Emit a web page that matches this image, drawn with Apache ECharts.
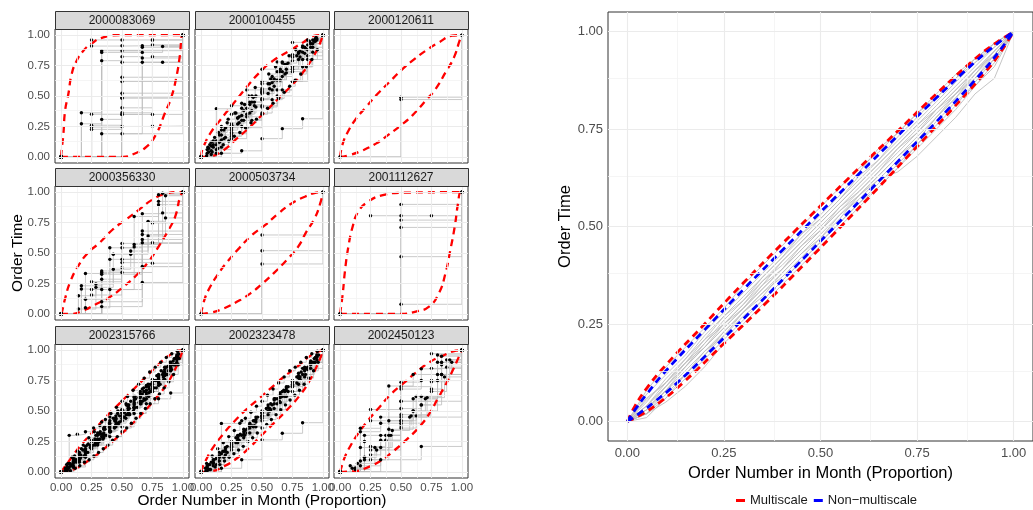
<!DOCTYPE html>
<html>
<head>
<meta charset="utf-8">
<script src="https://cdn.jsdelivr.net/npm/echarts@6/dist/echarts.min.js"></script>
<style>
html,body{margin:0;padding:0;background:#fff;}
#chart{width:1033px;height:510px;}
</style>
</head>
<body>
<div id="chart"></div>
<script>
// ---- Facet labels and ticks ----
const panelIds = ['2000083069','2000100455','2000120611','2000356330','2000503734','2001112627','2002315766','2002323478','2002450123'];
const tickValues = [0, 0.25, 0.5, 0.75, 1];
const minorValues = [0.125, 0.375, 0.625, 0.875];

// ---- Per-store monthly order paths: order times (proportion of month), one array per month.
// Order number proportion for order i of n is i/(n-1).
const paths_2000083069 = [
  [0,0.272,0.308,0.349,0.777,0.777,1],
  [0,0.362,0.79,0.823,0.858,0.907,1],
  [0,0.226,0.25,0.253,1],
  [0,0.245,0.349,0.349,1],
  [0,0.26,0.362,0.823,1],
  [0,0.35,0.403,0.92,1],
  [0,0.91,0.913,0.96,1],
  [0,0.96,0.96,0.96,1],
  [0,0.19,1],[0,0.482,1],[0,0.49,1],[0,0.523,1],[0,0.619,1],[0,0.654,1],[0,0.777,1],[0,0.872,1],
  [0,0.858,0.9,1],[0,0.872,0.913,1],[0,0.19,0.812,1]
];
const paths_2000100455 = [
  [0,0.05,0.14,0.2,0.3,0.38,0.47,0.55,0.66,0.72,0.8,0.9,1],
  [0,0.12,0.22,0.35,0.4,0.5,0.6,0.66,0.77,0.84,0.9,0.96,1],
  [0,0.02,0.08,0.17,0.25,0.3,0.36,0.47,0.55,0.62,0.74,0.86,1],
  [0,0.09,0.18,0.26,0.34,0.45,0.52,0.61,0.7,0.79,0.86,0.93,1],
  [0,0.04,0.1,0.15,0.24,0.28,0.35,0.42,0.48,0.56,0.63,0.68,0.74,0.82,0.88,0.95,1],
  [0,0.07,0.13,0.22,0.27,0.33,0.4,0.45,0.53,0.6,0.7,0.76,0.82,0.87,0.92,0.97,1],
  [0,0.06,0.19,0.33,0.42,0.55,0.7,0.83,1],
  [0,0.03,0.15,0.24,0.41,0.5,0.62,0.8,1],
  [0,0.03,0.05,0.15,0.232,0.313,1],
  [0,0.13,0.24,0.32,0.43,0.54,0.63,0.72,0.85,0.93,1],
  [0,0.03,0.08,0.12,0.16,0.22,0.27,0.3,0.36,0.41,0.47,0.52,0.58,0.63,0.69,0.74,0.8,0.85,0.9,0.96,1],
  [0,0.06,0.1,0.18,0.24,0.26,0.32,0.38,0.45,0.5,0.55,0.6,0.64,0.72,0.76,0.82,0.86,0.9,0.93,0.97,1],
  [0,0.395,0.42,0.55,0.72,0.78,0.94,0.96,1],
  [0,0.08,0.16,0.25,0.31,0.36,0.44,0.5,0.57,0.62,0.68,0.74,0.78,0.83,0.88,0.91,0.95,0.98,1],
  [0,0.01,0.04,0.07,0.1,0.13,0.17,0.2,0.24,0.28,0.31,0.35,0.4,0.44,0.48,0.53,0.58,0.63,0.68,0.74,0.8,0.88,1],
  [0,0.1,0.2,0.28,0.36,0.43,0.49,0.56,0.64,0.7,0.77,0.83,0.89,0.95,1]
];
const paths_2000120611 = [[0,0.49,1],[0,0.471,1]];
const paths_2000356330 = [
  [0,0.231,0.353,0.543,0.823,0.99,1],
  [0,0.204,0.285,0.38,0.584,0.829,1],
  [0,0.332,0.543,0.8,0.924,1],
  [0,0.12,0.448,0.57,0.897,1],
  [0,0.264,0.448,0.747,1],
  [0,0.155,0.34,0.416,1],
  [0,0.2,0.421,0.584,1],
  [0,0.149,0.245,0.367,0.516,0.76,0.788,1],
  [0,0.04,0.218,0.49,0.49,0.64,0.97,1],
  [0,0.579,1],
  [0,0.326,0.68,1],[0,0.2,0.611,1],[0,0.1,0.389,1],[0,0.06,0.258,1],[0,0.34,0.652,1],
  [0,0.05,0.2,0.55,0.978,1]
];
const paths_2000503734 = [[0,0.648,1],[0,0.519,1],[0,0.41,1]];
const paths_2001112627 = [
  [0,0.806,0.806,0.806,1],
  [0,0.899,1],[0,0.77,1],[0,0.71,1],[0,0.47,1],[0,0.079,1]
];
const paths_2002315766 = [
  [0,0.02,0.07,0.12,0.17,0.22,0.27,0.31,0.36,0.41,0.46,0.52,0.57,0.61,0.67,0.72,0.77,0.82,0.88,0.94,1],
  [0,0.04,0.08,0.1,0.15,0.19,0.25,0.3,0.33,0.39,0.44,0.48,0.53,0.58,0.63,0.68,0.74,0.79,0.85,0.92,1],
  [0,0.06,0.11,0.16,0.21,0.26,0.32,0.36,0.42,0.46,0.51,0.55,0.61,0.66,0.71,0.76,0.8,0.86,0.9,0.96,1],
  [0,0.01,0.04,0.09,0.13,0.2,0.23,0.28,0.34,0.37,0.42,0.47,0.52,0.56,0.6,0.66,0.71,0.76,0.83,0.9,1],
  [0,0.03,0.09,0.14,0.19,0.25,0.3,0.35,0.4,0.44,0.5,0.54,0.59,0.64,0.7,0.74,0.79,0.84,0.89,0.95,1],
  [0,0.02,0.05,0.08,0.18,0.21,0.24,0.32,0.38,0.43,0.48,0.5,0.55,0.62,0.65,0.7,0.76,0.81,0.86,0.93,1],
  [0,0.3,0.31,0.33,0.36,0.41,0.45,0.5,0.56,0.62,0.68,0.72,0.79,0.86,0.93,1],
  [0,0.04,0.1,0.16,0.22,0.29,0.34,0.4,0.47,0.53,0.58,0.66,0.74,0.8,0.88,1],
  [0,0.02,0.05,0.09,0.12,0.16,0.2,0.24,0.27,0.3,0.33,0.37,0.41,0.45,0.48,0.53,0.57,0.6,0.65,0.69,0.73,0.78,0.83,0.88,0.94,1],
  [0,0.01,0.06,0.1,0.14,0.17,0.22,0.26,0.31,0.35,0.38,0.42,0.46,0.49,0.52,0.56,0.61,0.66,0.7,0.75,0.78,0.82,0.87,0.91,0.96,1],
  [0,0.04,0.12,0.22,0.29,0.37,0.48,0.56,0.6,0.648,1],
  [0,0.06,0.12,0.17,0.22,0.28,0.33,0.38,0.43,0.48,0.53,0.58,0.62,0.67,0.72,0.77,0.82,0.86,0.9,0.94,0.97,0.99,1],
  [0,0.005,0.01,0.03,0.05,0.08,0.1,0.13,0.16,0.19,0.22,0.26,0.29,0.33,0.36,0.4,0.44,0.48,0.52,0.56,0.6,0.64,0.69,0.74,0.8,0.88,1],
  [0,0.03,0.07,0.1,0.15,0.18,0.22,0.25,0.3,0.33,0.37,0.4,0.44,0.48,0.51,0.55,0.58,0.62,0.65,0.69,0.72,0.75,0.79,0.83,0.86,0.9,0.93,0.97,1],
  [0,0.01,0.03,0.05,0.08,0.11,0.13,0.16,0.19,0.22,0.25,0.27,0.3,0.33,0.36,0.39,0.42,0.44,0.47,0.5,0.53,0.56,0.59,0.62,0.66,0.69,0.72,0.76,0.8,0.84,0.88,0.93,1],
  [0,0.07,0.13,0.19,0.23,0.27,0.31,0.37,0.44,0.49,0.55,0.6,0.64,0.68,0.75,0.8,0.87,0.94,1]
];
const paths_2002323478 = [
  [0,0.03,0.07,0.13,0.17,0.21,0.26,0.31,0.36,0.41,0.46,0.5,0.56,0.61,0.67,0.72,0.77,0.83,0.88,0.94,1],
  [0,0.05,0.1,0.16,0.2,0.25,0.3,0.35,0.38,0.43,0.49,0.53,0.59,0.65,0.69,0.75,0.81,0.86,0.9,0.96,1],
  [0,0.01,0.05,0.09,0.14,0.18,0.24,0.28,0.32,0.37,0.42,0.47,0.52,0.57,0.62,0.66,0.72,0.78,0.85,0.92,1],
  [0,0.04,0.08,0.12,0.19,0.24,0.28,0.33,0.4,0.45,0.48,0.55,0.6,0.63,0.7,0.74,0.79,0.84,0.91,0.95,1],
  [0,0.06,0.11,0.17,0.23,0.3,0.35,0.42,0.46,0.52,0.6,0.66,0.71,0.78,0.86,0.94,1],
  [0,0.02,0.06,0.12,0.2,0.26,0.32,0.38,0.44,0.5,0.56,0.62,0.7,0.76,0.84,0.9,1],
  [0,0.08,0.15,0.22,0.3,0.38,0.46,0.55,0.62,0.7,0.8,0.9,1],
  [0,0.03,0.1,0.263,0.317,0.404,1],
  [0,0.398,0.42,0.5,0.66,0.85,1],
  [0,0.07,0.13,0.19,0.24,0.29,0.34,0.4,0.44,0.49,0.54,0.58,0.63,0.68,0.73,0.78,0.83,0.86,0.9,0.94,0.97,0.99,1],
  [0,0.005,0.02,0.04,0.06,0.09,0.12,0.15,0.18,0.21,0.25,0.28,0.32,0.36,0.39,0.43,0.47,0.51,0.55,0.59,0.63,0.67,0.72,0.77,0.83,0.9,1],
  [0,0.03,0.06,0.1,0.13,0.17,0.21,0.24,0.28,0.31,0.34,0.38,0.42,0.45,0.49,0.52,0.56,0.6,0.63,0.67,0.7,0.74,0.78,0.82,0.85,0.89,0.93,0.96,1],
  [0,0.02,0.09,0.16,0.24,0.3,0.37,0.45,0.51,0.58,0.66,0.73,0.8,0.9,1]
];
const paths_2002450123 = [
  [0,0.1,0.209,1],
  [0,0.358,0.4,0.737,0.846,0.95,1],
  [0,0.33,0.45,0.68,0.75,0.9,1],
  [0,0.2,0.3,0.52,0.62,0.88,1],
  [0,0.05,0.26,0.4,0.55,0.8,1],
  [0,0.033,0.209,0.3,0.42,0.62,0.74,0.92,1],
  [0,0.02,0.1,0.26,0.36,0.46,0.66,0.86,1],
  [0,0.512,0.7,0.97,1],
  [0,0.42,0.58,0.85,1],
  [0,0.18,0.47,0.75,1],
  [0,0.3,0.705,0.8,0.96,1],
  [0,0.1,0.35,0.5,0.8,1],
  [0,0.25,0.42,0.6,0.9,1],
  [0,0.45,1],[0,0.58,1],
  [0,0.03,0.12,0.18,0.3,0.42,0.5,0.6,0.75,0.92,1],
  [0,0.05,0.09,0.14,0.2,0.3,0.38,0.46,0.55,0.68,0.8,0.9,1],
  [0,0.07,0.2,0.34,0.45,0.61,0.78,1]
];

// ---- Per-store multiscale envelopes ([order number, order time]) ----
const upper_2000083069 = [[0,0],[0.005,0.06],[0.019,0.19],[0.033,0.381],[0.06,0.518],[0.087,0.681],[0.128,0.79],[0.183,0.872],[0.251,0.932],[0.346,0.981],[0.482,1],[1,1]];
const lower_2000083069 = [[0,0],[0.51,0],[0.591,0.022],[0.7,0.082],[0.782,0.19],[0.85,0.354],[0.905,0.49],[0.946,0.654],[0.973,0.817],[0.995,1],[1,1]];
const upper_2000100455 = [[0,0],[0.005,0.04],[0.019,0.082],[0.074,0.191],[0.155,0.3],[0.264,0.436],[0.373,0.572],[0.482,0.695],[0.591,0.79],[0.727,0.872],[0.837,0.94],[0.946,0.997],[1,1]];
const lower_2000100455 = [[0,0],[0.074,0.005],[0.183,0.054],[0.292,0.15],[0.401,0.245],[0.51,0.354],[0.619,0.463],[0.728,0.572],[0.837,0.695],[0.918,0.817],[0.973,0.926],[1,1]];
const upper_2000120611 = [[0,0],[0.022,0.109],[0.063,0.204],[0.131,0.313],[0.213,0.409],[0.308,0.518],[0.403,0.613],[0.499,0.708],[0.594,0.79],[0.703,0.872],[0.812,0.94],[0.921,0.995],[1,1]];
const lower_2000120611 = [[0,0],[0.076,0.014],[0.185,0.054],[0.294,0.109],[0.39,0.177],[0.499,0.259],[0.594,0.341],[0.703,0.463],[0.785,0.559],[0.866,0.695],[0.935,0.817],[0.981,0.954],[1,1]];
const upper_2000356330 = [[0,0],[0.005,0.008],[0.032,0.122],[0.073,0.258],[0.141,0.394],[0.222,0.503],[0.316,0.584],[0.424,0.693],[0.532,0.774],[0.641,0.856],[0.749,0.938],[0.857,0.986],[0.965,1],[1,1]];
const lower_2000356330 = [[0,0],[0.073,0],[0.181,0.027],[0.289,0.082],[0.397,0.136],[0.505,0.217],[0.614,0.313],[0.722,0.435],[0.803,0.557],[0.884,0.693],[0.938,0.802],[0.978,0.965],[1,1]];
const upper_2000503734 = [[0,0],[0.027,0.115],[0.068,0.21],[0.135,0.32],[0.216,0.429],[0.311,0.538],[0.419,0.648],[0.527,0.73],[0.635,0.825],[0.743,0.907],[0.851,0.962],[0.946,0.995],[1,1]];
const lower_2000503734 = [[0,0],[0.081,0.011],[0.189,0.046],[0.297,0.101],[0.405,0.169],[0.5,0.246],[0.595,0.333],[0.703,0.443],[0.797,0.552],[0.865,0.675],[0.932,0.784],[0.978,0.907],[1,1]];
const upper_2001112627 = [[0,0],[0.022,0.169],[0.041,0.361],[0.068,0.552],[0.103,0.716],[0.149,0.839],[0.23,0.921],[0.351,0.975],[0.514,0.995],[1,1]];
const lower_2001112627 = [[0,0],[0.5,0],[0.622,0.019],[0.73,0.06],[0.811,0.169],[0.865,0.333],[0.905,0.525],[0.941,0.716],[0.968,0.907],[0.989,1],[1,1]];
const upper_2002315766 = [[0,0],[0.032,0.046],[0.073,0.1],[0.154,0.209],[0.262,0.331],[0.37,0.453],[0.478,0.561],[0.586,0.669],[0.695,0.778],[0.803,0.886],[0.884,0.954],[0.965,0.995],[1,1]];
const lower_2002315766 = [[0,0],[0.046,0.005],[0.127,0.033],[0.235,0.1],[0.343,0.182],[0.451,0.276],[0.559,0.371],[0.668,0.48],[0.776,0.602],[0.87,0.724],[0.938,0.846],[0.978,0.94],[1,1]];
const upper_2002323478 = [[0,0],[0.005,0.019],[0.041,0.1],[0.095,0.195],[0.176,0.304],[0.27,0.412],[0.365,0.507],[0.459,0.588],[0.568,0.683],[0.676,0.778],[0.784,0.859],[0.878,0.94],[0.946,0.981],[1,1]];
const lower_2002323478 = [[0,0],[0.081,0.005],[0.189,0.046],[0.297,0.114],[0.392,0.195],[0.486,0.29],[0.595,0.398],[0.703,0.507],[0.811,0.629],[0.892,0.751],[0.946,0.859],[0.986,0.954],[1,1]];
const upper_2002450123 = [[0,0],[0.005,0.019],[0.041,0.127],[0.082,0.209],[0.149,0.317],[0.231,0.425],[0.313,0.52],[0.408,0.629],[0.516,0.724],[0.625,0.818],[0.734,0.9],[0.842,0.954],[0.951,0.995],[1,1]];
const lower_2002450123 = [[0,0],[0.109,0.005],[0.217,0.033],[0.326,0.087],[0.435,0.168],[0.543,0.263],[0.652,0.371],[0.734,0.48],[0.802,0.602],[0.87,0.724],[0.924,0.832],[0.973,0.94],[1,1]];

// ---- Pooled view: order-time curves sampled at these order-number proportions ----
const pooledX = [0,0.05,0.1,0.15,0.2,0.25,0.3,0.35,0.4,0.45,0.5,0.55,0.6,0.65,0.7,0.75,0.8,0.85,0.9,0.95,1];
const pooledCurves = [
  [0,0.056,0.1,0.15,0.2,0.26,0.31,0.36,0.41,0.46,0.51,0.56,0.61,0.66,0.71,0.76,0.81,0.86,0.91,0.96,1],
  [0,0.07,0.12,0.17,0.23,0.28,0.33,0.38,0.43,0.48,0.53,0.58,0.64,0.7,0.74,0.79,0.83,0.88,0.92,0.96,1],
  [0,0.04,0.09,0.14,0.19,0.24,0.29,0.34,0.39,0.44,0.49,0.54,0.59,0.64,0.69,0.74,0.79,0.84,0.89,0.95,1],
  [0,0.03,0.08,0.13,0.18,0.23,0.28,0.33,0.38,0.43,0.48,0.53,0.58,0.63,0.68,0.73,0.78,0.83,0.88,0.94,1],
  [0,0.05,0.11,0.16,0.21,0.27,0.32,0.37,0.42,0.47,0.52,0.57,0.62,0.67,0.72,0.77,0.82,0.87,0.92,0.97,1],
  [0,0.02,0.07,0.12,0.17,0.22,0.27,0.31,0.36,0.41,0.46,0.51,0.56,0.6,0.65,0.71,0.76,0.81,0.87,0.93,1],
  [0,0.03,0.09,0.15,0.21,0.25,0.3,0.36,0.4,0.45,0.5,0.55,0.6,0.65,0.7,0.75,0.8,0.85,0.9,0.95,1],
  [0,0.04,0.09,0.14,0.19,0.24,0.29,0.34,0.39,0.44,0.49,0.54,0.58,0.62,0.64,0.68,0.73,0.78,0.84,0.88,1],
  [0,0.02,0.06,0.11,0.16,0.21,0.26,0.31,0.36,0.41,0.46,0.51,0.56,0.61,0.66,0.71,0.77,0.82,0.86,0.91,1],
  [0,0.06,0.1,0.16,0.22,0.27,0.31,0.37,0.42,0.48,0.52,0.57,0.63,0.67,0.73,0.78,0.83,0.88,0.93,0.97,1],
  [0,0.03,0.08,0.14,0.2,0.25,0.3,0.35,0.41,0.46,0.51,0.56,0.61,0.66,0.71,0.76,0.8,0.85,0.9,0.95,1],
  [0,0.01,0.06,0.12,0.17,0.23,0.28,0.33,0.37,0.42,0.47,0.53,0.57,0.62,0.67,0.72,0.78,0.83,0.89,0.94,1],
  [0,0.02,0.05,0.09,0.14,0.2,0.25,0.3,0.35,0.4,0.45,0.5,0.55,0.6,0.65,0.7,0.75,0.8,0.86,0.92,1],
  [0,0.08,0.14,0.19,0.24,0.29,0.35,0.4,0.45,0.5,0.55,0.6,0.65,0.69,0.74,0.79,0.84,0.89,0.93,0.97,1],
  [0,0.04,0.1,0.15,0.19,0.25,0.29,0.35,0.39,0.45,0.49,0.55,0.59,0.64,0.7,0.74,0.8,0.84,0.9,0.94,1],
  [0,0.02,0.08,0.12,0.18,0.22,0.28,0.32,0.38,0.43,0.47,0.52,0.58,0.63,0.68,0.72,0.78,0.84,0.88,0.93,1]
];
const multiscaleUpper = [[0,0],[0.02,0.04],[0.05,0.085],[0.1,0.145],[0.2,0.25],[0.3,0.355],[0.4,0.455],[0.5,0.553],[0.6,0.65],[0.7,0.745],[0.8,0.84],[0.9,0.93],[0.95,0.968],[1,1]];
const multiscaleLower = [[0,0],[0.04,0.02],[0.085,0.05],[0.145,0.1],[0.25,0.2],[0.355,0.3],[0.455,0.4],[0.553,0.5],[0.65,0.6],[0.745,0.7],[0.84,0.8],[0.93,0.9],[0.968,0.95],[1,1]];
const nonMultiscaleUpper = [[0,0],[0.02,0.03],[0.05,0.07],[0.1,0.13],[0.2,0.235],[0.3,0.338],[0.4,0.438],[0.5,0.537],[0.6,0.635],[0.7,0.733],[0.8,0.83],[0.9,0.922],[0.95,0.963],[1,1]];
const nonMultiscaleLower = [[0,0],[0.03,0.02],[0.07,0.05],[0.13,0.1],[0.235,0.2],[0.338,0.3],[0.438,0.4],[0.537,0.5],[0.635,0.6],[0.733,0.7],[0.83,0.8],[0.922,0.9],[0.963,0.95],[1,1]];

const panelPaths = [paths_2000083069, paths_2000100455, paths_2000120611, paths_2000356330, paths_2000503734, paths_2001112627, paths_2002315766, paths_2002323478, paths_2002450123];
const panelUpper = [upper_2000083069, upper_2000100455, upper_2000120611, upper_2000356330, upper_2000503734, upper_2001112627, upper_2002315766, upper_2002323478, upper_2002450123];
const panelLower = [lower_2000083069, lower_2000100455, lower_2000120611, lower_2000356330, lower_2000503734, lower_2001112627, lower_2002315766, lower_2002323478, lower_2002450123];

// ---- Layout ----
const FONT = '"Liberation Sans", Arial, Helvetica, sans-serif';
const colLeft = [55, 195, 334];
const rowTop = [29, 186, 344];
const panelSize = 134;
const stripH = 18;
const RED = '#ff0000', BLUE = '#0000ff', GREY_PATH = '#bdbdbd';

const grids = [], xAxes = [], yAxes = [], series = [], graphics = [];
const fmt = v => v.toFixed(2);

function addGridLines(gi) {
  const mk = (vals, color, width) => ({
    type: 'line', xAxisIndex: gi, yAxisIndex: gi, data: [], z: 1, silent: true,
    markLine: {
      silent: true, symbol: 'none', animation: false, label: { show: false },
      emphasis: { disabled: true },
      lineStyle: { color: color, width: width, type: 'solid' },
      data: vals.map(v => ({ xAxis: v })).concat(vals.map(v => ({ yAxis: v })))
    }
  });
  series.push(mk(minorValues, '#f3f3f3', 0.8));
  series.push(mk(tickValues, '#ebebeb', 1.1));
}

function axisPair(gi, showX, showY, fontSize, xMargin, yMargin, tickLen) {
  const common = {
    type: 'value', gridIndex: gi, min: -0.05, max: 1.05,
    axisLine: { show: false }, splitLine: { show: false }, minorSplitLine: { show: false }
  };
  xAxes.push(Object.assign({}, common, {
    axisTick: { show: showX, customValues: tickValues, length: tickLen, lineStyle: { color: '#333', width: 1 } },
    axisLabel: { show: showX, customValues: tickValues, formatter: fmt, color: '#4d4d4d', fontSize: fontSize, fontFamily: FONT, margin: xMargin }
  }));
  yAxes.push(Object.assign({}, common, {
    axisTick: { show: showY, customValues: tickValues, length: tickLen, lineStyle: { color: '#333', width: 1 } },
    axisLabel: { show: showY, customValues: tickValues, formatter: fmt, color: '#4d4d4d', fontSize: fontSize, fontFamily: FONT, margin: yMargin }
  }));
}

// Faceted panels
panelIds.forEach((id, k) => {
  const r = Math.floor(k / 3), c = k % 3;
  const gi = k;
  grids.push({ left: colLeft[c], top: rowTop[r], width: panelSize, height: panelSize, show: true, borderColor: '#333', borderWidth: 1, backgroundColor: '#fff' });
  axisPair(gi, r === 2, c === 0, 11.5, 4, 5, 3);
  addGridLines(gi);
  const pts = [];
  panelPaths[k].forEach(ys => {
    const data = ys.map((y, i) => [i / (ys.length - 1), y]);
    data.forEach(p => pts.push(p));
    // horizontal move to the next order number, then vertical to its time
    series.push({ type: 'line', xAxisIndex: gi, yAxisIndex: gi, data: data, step: 'end', symbol: 'none', silent: true, z: 2,
      lineStyle: { color: GREY_PATH, width: 0.8 } });
  });
  [panelUpper[k], panelLower[k]].forEach(env => {
    series.push({ type: 'line', xAxisIndex: gi, yAxisIndex: gi, data: env, smooth: true, symbol: 'none', silent: true, z: 3,
      lineStyle: { color: RED, width: 2.3, type: [7, 5] } });
  });
  series.push({ type: 'scatter', xAxisIndex: gi, yAxisIndex: gi, data: pts, symbol: 'circle', symbolSize: 3.4, silent: true, z: 4,
    itemStyle: { color: '#000', opacity: 1 } });
  // facet strip
  graphics.push({ type: 'rect', silent: true, z: 10,
    shape: { x: colLeft[c] + 0.5, y: rowTop[r] - stripH + 0.5, width: panelSize, height: stripH },
    style: { fill: '#d9d9d9', stroke: '#333', lineWidth: 1 } });
  graphics.push({ type: 'text', silent: true, z: 11, x: colLeft[c] + panelSize / 2, y: rowTop[r] - stripH / 2 + 0.5,
    style: { text: id, align: 'center', verticalAlign: 'middle', textAlign: 'center', textVerticalAlign: 'middle', font: '12px ' + FONT, fill: '#1a1a1a' } });
});

graphics.push({ type: 'text', silent: true, x: 18, y: 253, rotation: Math.PI / 2,
  style: { text: 'Order Time', align: 'center', verticalAlign: 'middle', textAlign: 'center', textVerticalAlign: 'middle', font: '15.5px ' + FONT, fill: '#000' } });
graphics.push({ type: 'text', silent: true, x: 262, y: 501,
  style: { text: 'Order Number in Month (Proportion)', align: 'center', verticalAlign: 'middle', textAlign: 'center', textVerticalAlign: 'middle', font: '15.5px ' + FONT, fill: '#000' } });

// Pooled panel
const PG = 9;
grids.push({ left: 608, top: 12, width: 430, height: 429, show: true, borderColor: '#333', borderWidth: 1, backgroundColor: '#fff' });
axisPair(PG, true, true, 13, 6, 5, 4);
Object.assign(xAxes[PG], { name: 'Order Number in Month (Proportion)', nameLocation: 'middle', nameGap: 19,
  nameTextStyle: { fontSize: 16.5, color: '#000', fontFamily: FONT } });
Object.assign(yAxes[PG], { name: 'Order Time', nameLocation: 'middle', nameGap: 34,
  nameTextStyle: { fontSize: 16.5, color: '#000', fontFamily: FONT } });
addGridLines(PG);
pooledCurves.forEach(ys => {
  series.push({ type: 'line', xAxisIndex: PG, yAxisIndex: PG, data: pooledX.map((x, i) => [x, ys[i]]), symbol: 'none', silent: true, z: 2,
    lineStyle: { color: '#bebebe', width: 0.9 } });
});
[[multiscaleUpper, 'Multiscale', RED], [multiscaleLower, 'Multiscale', RED],
 [nonMultiscaleUpper, 'Non\u2212multiscale', BLUE], [nonMultiscaleLower, 'Non\u2212multiscale', BLUE]].forEach(([env, name, col]) => {
  series.push({ type: 'line', name: name, xAxisIndex: PG, yAxisIndex: PG, data: env, smooth: true, symbol: 'none', silent: true, z: 3,
    itemStyle: { color: col }, lineStyle: { color: col, width: 2.8, type: [7, 5] } });
});

const chart = echarts.init(document.getElementById('chart'), null, { renderer: 'canvas' });
chart.setOption({
  animation: false,
  backgroundColor: '#fff',
  grid: grids,
  xAxis: xAxes,
  yAxis: yAxes,
  series: series,
  graphic: graphics,
  legend: {
    selectedMode: false, left: 731, top: 489, itemWidth: 9, itemHeight: 3, itemGap: 6,
    data: [
      { name: 'Multiscale', icon: 'rect', itemStyle: { color: RED } },
      { name: 'Non\u2212multiscale', icon: 'rect', itemStyle: { color: BLUE } }
    ],
    textStyle: { fontSize: 13, color: '#1a1a1a', fontFamily: FONT }
  }
});
</script>
</body>
</html>
